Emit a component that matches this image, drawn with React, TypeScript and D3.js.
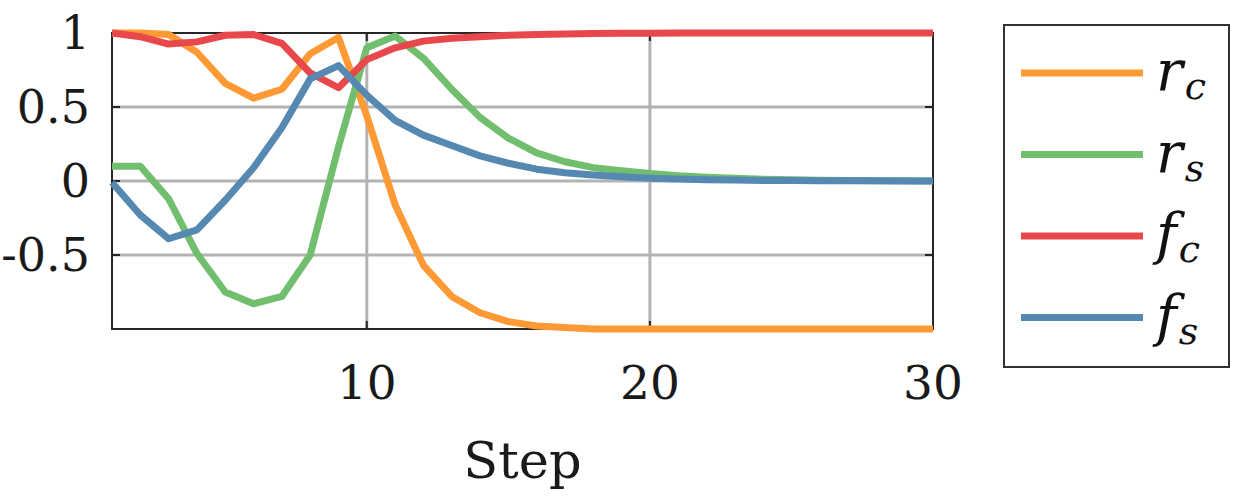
import React from 'react';
import * as d3 from 'd3';

// step index on the x axis
const steps = [
  1, 2, 3, 4, 5, 6, 7, 8, 9, 10, 11, 12, 13, 14, 15, 16, 17, 18, 19, 20, 21, 22,
  23, 24, 25, 26, 27, 28, 29, 30,
];

const rc = [
  1.0, 1.0, 0.99, 0.87, 0.66, 0.56, 0.62, 0.86, 0.97, 0.44, -0.16, -0.57, -0.78,
  -0.89, -0.95, -0.98, -0.99, -1.0, -1.0, -1.0, -1.0, -1.0, -1.0, -1.0, -1.0,
  -1.0, -1.0, -1.0, -1.0, -1.0,
];
const rs = [
  0.1, 0.1, -0.12, -0.49, -0.75, -0.83, -0.78, -0.5, 0.23, 0.9, 0.98, 0.83, 0.62,
  0.43, 0.29, 0.19, 0.13, 0.09, 0.07, 0.05, 0.035, 0.025, 0.018, 0.012, 0.008,
  0.005, 0.003, 0.002, 0.001, 0.0,
];
const fc = [
  1.0, 0.975, 0.925, 0.94, 0.985, 0.99, 0.93, 0.73, 0.63, 0.82, 0.9, 0.945,
  0.965, 0.975, 0.984, 0.99, 0.994, 0.997, 0.998, 0.999, 1.0, 1.0, 1.0, 1.0, 1.0,
  1.0, 1.0, 1.0, 1.0, 1.0,
];
const fs = [
  -0.01, -0.23, -0.39, -0.33, -0.13, 0.09, 0.36, 0.69, 0.78, 0.58, 0.41, 0.31,
  0.24, 0.17, 0.12, 0.08, 0.056, 0.04, 0.029, 0.019, 0.013, 0.009, 0.006, 0.004,
  0.003, 0.002, 0.001, 0.001, 0.0, 0.0,
];

const xTicks = [10, 20, 30];
const yTicks = [1, 0.5, 0, -0.5];
const yGrid = [0.5, 0, -0.5];
const xGrid = [10, 20];

const series = [
  { name: 'r', sub: 'c', values: rc, color: '#fe9a35' },
  { name: 'r', sub: 's', values: rs, color: '#71bf6e' },
  { name: 'f', sub: 'c', values: fc, color: '#e8484c' },
  { name: 'f', sub: 's', values: fs, color: '#5689b1' },
];

const W = 1250;
const H = 500;
const left = 112;
const right = 933;
const top = 33;
const bottom = 329;
const font = 'DejaVu Serif';

export default function App() {
  const x = d3.scaleLinear().domain([1, 30]).range([left, right]);
  const y = d3.scaleLinear().domain([-1, 1]).range([bottom, top]);

  const line = d3
    .line<number>()
    .x((d, i) => x(steps[i]))
    .y((d) => y(d));

  const tickLen = 8;
  const frame = '#262626';
  const txt = { fontFamily: font };

  return (
    <svg
      width={W}
      height={H}
      style={{ position: 'absolute', left: 0, top: 0, background: '#fff' }}
    >
      {/* grid */}
      {yGrid.map((v) => (
        <line
          key={'gy' + v}
          x1={left}
          x2={right}
          y1={y(v)}
          y2={y(v)}
          stroke="#b3b3b3"
          strokeWidth={3}
        />
      ))}
      {xGrid.map((v) => (
        <line
          key={'gx' + v}
          x1={x(v)}
          x2={x(v)}
          y1={top}
          y2={bottom}
          stroke="#b3b3b3"
          strokeWidth={3}
        />
      ))}

      {/* ticks inside the box */}
      {yGrid.map((v) => (
        <g key={'ty' + v} stroke={frame} strokeWidth={2}>
          <line x1={left} x2={left + tickLen} y1={y(v)} y2={y(v)} />
          <line x1={right} x2={right - tickLen} y1={y(v)} y2={y(v)} />
        </g>
      ))}
      {xGrid.map((v) => (
        <g key={'tx' + v} stroke={frame} strokeWidth={2}>
          <line x1={x(v)} x2={x(v)} y1={bottom} y2={bottom - tickLen} />
          <line x1={x(v)} x2={x(v)} y1={top} y2={top + tickLen} />
        </g>
      ))}

      <rect
        x={left}
        y={top}
        width={right - left}
        height={bottom - top}
        fill="none"
        stroke={frame}
        strokeWidth={2}
      />

      {/* series */}
      {series.map((s) => (
        <path
          key={s.name + s.sub}
          d={line(s.values) || ''}
          fill="none"
          stroke={s.color}
          strokeWidth={7}
          strokeLinejoin="round"
        />
      ))}

      {/* tick labels */}
      {yTicks.map((v) => (
        <text
          key={'ly' + v}
          x={90}
          y={y(v) + 16}
          textAnchor="end"
          style={txt}
          fontSize={46}
          fill="#1a1a1a"
        >
          {v < 0 ? '-' + Math.abs(v) : String(v)}
        </text>
      ))}
      {xTicks.map((v) => (
        <text
          key={'lx' + v}
          x={x(v)}
          y={399}
          textAnchor="middle"
          style={txt}
          fontSize={47}
          fill="#1a1a1a"
        >
          {v}
        </text>
      ))}
      <text
        x={(left + right) / 2}
        y={478}
        textAnchor="middle"
        style={txt}
        fontSize={51}
        fill="#1a1a1a"
      >
        Step
      </text>

      {/* legend */}
      <rect
        x={1004}
        y={25}
        width={225}
        height={342}
        fill="#fff"
        stroke="#333"
        strokeWidth={2}
      />
      {series.map((s, i) => {
        const ly = 73 + i * 81.5;
        return (
          <g key={'lg' + i}>
            <line
              x1={1021}
              x2={1143}
              y1={ly}
              y2={ly}
              stroke={s.color}
              strokeWidth={7}
            />
            <text
              x={1156}
              y={ly + 17}
              style={{ ...txt, fontStyle: 'italic' }}
              fontSize={56}
              fill="#111"
            >
              {s.name}
              <tspan fontSize={38} dy={9} dx={2}>
                {s.sub}
              </tspan>
            </text>
          </g>
        );
      })}
    </svg>
  );
}
